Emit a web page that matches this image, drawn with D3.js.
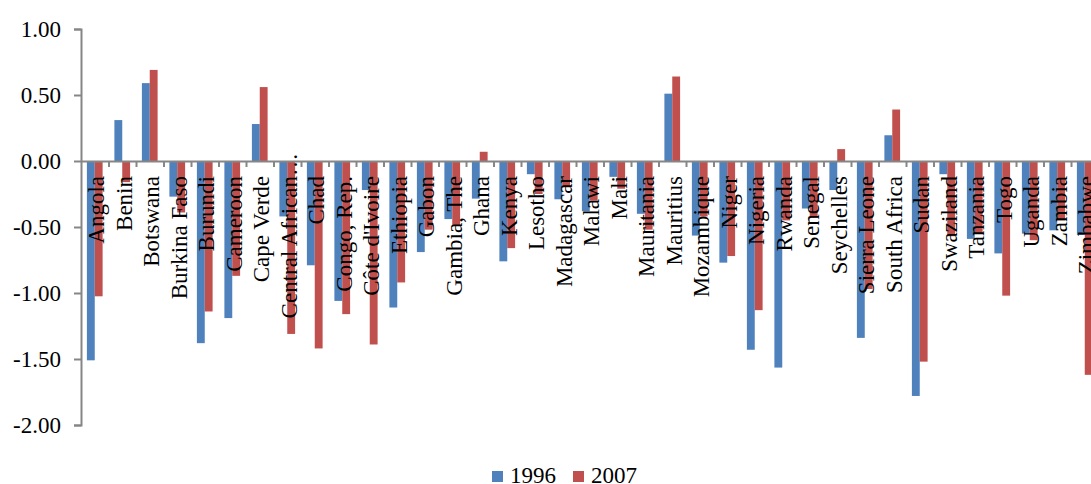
<!DOCTYPE html>
<html>
<head>
<meta charset="utf-8">
<script src="https://cdn.jsdelivr.net/npm/d3@7"></script>
<style>
  html, body { margin: 0; padding: 0; background: #fff; }
  svg { display: block; }
  text { font-family: "Liberation Serif", "Times New Roman", serif; fill: #000; }
</style>
</head>
<body>
<svg id="chart" width="1091" height="484"></svg>
<script>
const categories = ["Angola","Benin","Botswana","Burkina Faso","Burundi","Cameroon","Cape Verde","Central African…","Chad","Congo, Rep.","Côte d'Ivoire","Ethiopia","Gabon","Gambia, The","Ghana","Kenya","Lesotho","Madagascar","Malawi","Mali","Mauritania","Mauritius","Mozambique","Niger","Nigeria","Rwanda","Senegal","Seychelles","Sierra Leone","South Africa","Sudan","Swaziland","Tanzania","Togo","Uganda","Zambia","Zimbabwe"];
const seriesNames = ["1996", "2007"];
const values1996 = [-1.51, 0.31, 0.59, -0.27, -1.38, -1.19, 0.28, -0.42, -0.79, -1.06, -0.22, -1.11, -0.69, -0.44, -0.285, -0.76, -0.10, -0.29, -0.38, -0.12, -0.40, 0.51, -0.565, -0.77, -1.43, -1.565, -0.36, -0.22, -1.34, 0.195, -1.78, -0.10, -0.59, -0.70, -0.55, -0.525, -0.56];
const values2007 = [-1.025, -0.16, 0.69, -0.39, -1.14, -0.87, 0.56, -1.31, -1.42, -1.16, -1.39, -0.92, -0.52, -0.49, 0.07, -0.66, -0.25, -0.20, -0.30, -0.21, -0.52, 0.64, -0.42, -0.72, -1.13, -0.45, -0.43, 0.09, -0.97, 0.39, -1.52, -0.57, -0.55, -1.02, -0.60, -0.45, -1.62];
const yTicks = [-2, -1.5, -1, -0.5, 0, 0.5, 1];

(function () {
const colors = {"1996": "#4F81BD", "2007": "#C0504D"};
const svg = d3.select("#chart");
const mLeft = 81, mRight = 1098.5, mTop = 29, mBottom = 425;
const fontSize = 23;

const y = d3.scaleLinear().domain([-2, 1]).range([mBottom, mTop]);
const x0 = d3.scaleBand().domain(categories).range([mLeft, mRight]).paddingInner(0).paddingOuter(0);
const x1 = d3.scaleBand().domain(seriesNames).range([0, x0.bandwidth()]).paddingInner(0).paddingOuter(0.75);
const xi = d3.scaleLinear().domain([0, categories.length]).range([mLeft, mRight]);

const fmt = d3.formatLocale({decimal: ".", thousands: ",", grouping: [3], currency: ["$", ""], minus: "-"}).format(".2f");

// bars
const data = categories.map((c, i) => ({cat: c, vals: [{s: "1996", v: values1996[i]}, {s: "2007", v: values2007[i]}]}));
const g = svg.append("g");
g.selectAll("g.cat").data(data).join("g")
  .attr("transform", d => `translate(${x0(d.cat)},0)`)
  .selectAll("rect").data(d => d.vals).join("rect")
  .attr("x", d => x1(d.s))
  .attr("width", x1.bandwidth())
  .attr("y", d => y(Math.max(0, d.v)))
  .attr("height", d => Math.abs(y(d.v) - y(0)))
  .attr("fill", d => colors[d.s]);

// y axis
const yAxis = svg.append("g").attr("transform", `translate(${mLeft},0)`)
  .call(d3.axisLeft(y).tickValues(yTicks).tickFormat(fmt).tickSize(7).tickSizeOuter(7).tickPadding(13));
yAxis.select(".domain").attr("stroke", "#868686").attr("stroke-width", 2);
yAxis.selectAll(".tick line").attr("stroke", "#868686").attr("stroke-width", 2);
yAxis.selectAll(".tick text").attr("font-size", fontSize).attr("font-family", "Liberation Serif").attr("fill", "#000").attr("dy", "0.33em");

// x axis at zero
const xAxis = svg.append("g").attr("transform", `translate(0,${y(0)})`)
  .call(d3.axisBottom(xi).tickValues(d3.range(1, categories.length + 1)).tickFormat("").tickSize(6).tickSizeOuter(0));
xAxis.select(".domain").attr("stroke", "#868686").attr("stroke-width", 2);
xAxis.selectAll(".tick line").attr("stroke", "#868686").attr("stroke-width", 2);

// category labels (rotated)
svg.append("g").selectAll("text").data(categories).join("text")
  .attr("transform", d => `translate(${x0(d) + x0.bandwidth() / 2},${y(0) + (d.endsWith("…") ? -8 : 15)}) rotate(-90)`)
  .attr("text-anchor", "end")
  .attr("dy", "0.42em")
  .attr("font-size", fontSize)
  .text(d => d);

// legend
const legend = svg.append("g");
const legendX = [492, 573];
seriesNames.forEach((s, i) => {
  legend.append("rect").attr("x", legendX[i]).attr("y", 471).attr("width", 11).attr("height", 11).attr("fill", colors[s]);
  legend.append("text").attr("x", legendX[i] + 18).attr("y", 483).attr("font-size", fontSize).text(s);
});
})();
</script>
</body>
</html>
